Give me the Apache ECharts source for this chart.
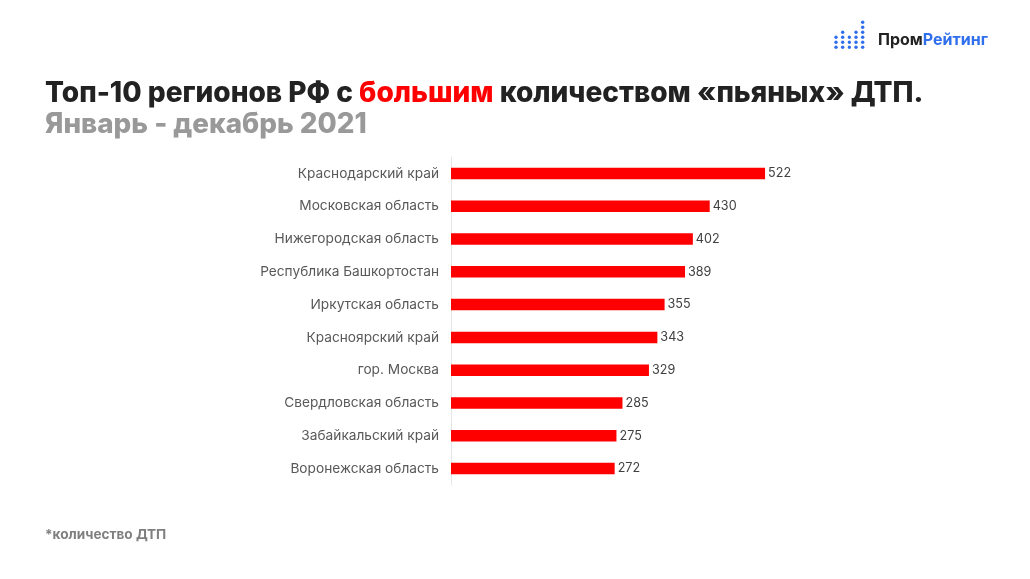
<!DOCTYPE html>
<html>
<head>
<meta charset="utf-8">
<style>html,body{margin:0;padding:0;background:#fff}#chart{width:1030px;height:579px}</style>
<script src="https://cdn.jsdelivr.net/npm/echarts@6/dist/echarts.min.js"></script>
</head>
<body>
<div id="chart"></div>
<script>
const regions = ['Краснодарский край','Московская область','Нижегородская область','Республика Башкортостан','Иркутская область','Красноярский край','гор. Москва','Свердловская область','Забайкальский край','Воронежская область'];
const counts = [522,430,402,389,355,343,329,285,275,272];
// высота столбиков логотипа (кол-во точек)
const logoCols = [3,4,3,4,6];

const font = 'Inter';
const logoDots = [];
logoCols.forEach((n, c) => {
    for (let r = 0; r < n; r++) {
        logoDots.push({
            type: 'circle',
            shape: { cx: 836 + c * 6.67, cy: 47.3 - r * 5, r: 1.7 },
            style: { fill: '#2f6fed' }
        });
    }
});

const chart = echarts.init(document.getElementById('chart'));
chart.setOption({
    backgroundColor: '#fff',
    animation: false,
    textStyle: { fontFamily: font },
    title: [
        {
            left: 45, top: 80, padding: 0,
            text: '{a|Топ-10 регионов РФ с }{b|большим}{a| количеством «пьяных» ДТП.}',
            textStyle: {
                rich: {
                    a: { fontFamily: font, fontSize: 28.05, fontWeight: 800, color: '#222222' },
                    b: { fontFamily: font, fontSize: 28.05, fontWeight: 800, color: '#ff0000' }
                }
            }
        },
        {
            left: 45, top: 111, padding: 0,
            text: 'Январь - декабрь 2021',
            textStyle: { fontFamily: font, fontSize: 27.8, fontWeight: 800, color: '#999999' }
        },
        {
            left: 45, top: 528, padding: 0,
            text: '*количество ДТП',
            textStyle: { fontFamily: font, fontSize: 13.6, fontWeight: 700, color: '#7f7f7f' }
        },
        {
            left: 878, top: 32, padding: 0,
            text: '{a|Пром}{b|Рейтинг}',
            textStyle: {
                rich: {
                    a: { fontFamily: font, fontSize: 16, fontWeight: 700, color: '#222222' },
                    b: { fontFamily: font, fontSize: 16, fontWeight: 700, color: '#2f6fed' }
                }
            }
        }
    ],
    grid: { left: 451, top: 157, width: 361, height: 328, containLabel: false },
    xAxis: { type: 'value', min: 0, max: 600, show: false },
    yAxis: {
        type: 'category',
        data: regions,
        inverse: true,
        axisLine: { show: true, lineStyle: { color: '#e6e6e6', width: 1 } },
        axisTick: { show: false },
        axisLabel: { color: '#595959', fontSize: 13.7, margin: 12, fontFamily: font }
    },
    series: [{
        type: 'bar',
        data: counts,
        barWidth: 11.5,
        itemStyle: { color: '#ff0000' },
        label: { show: true, position: 'right', distance: 3, color: '#404040', fontSize: 12.6, fontFamily: font }
    }],
    graphic: logoDots
});
</script>
</body>
</html>
